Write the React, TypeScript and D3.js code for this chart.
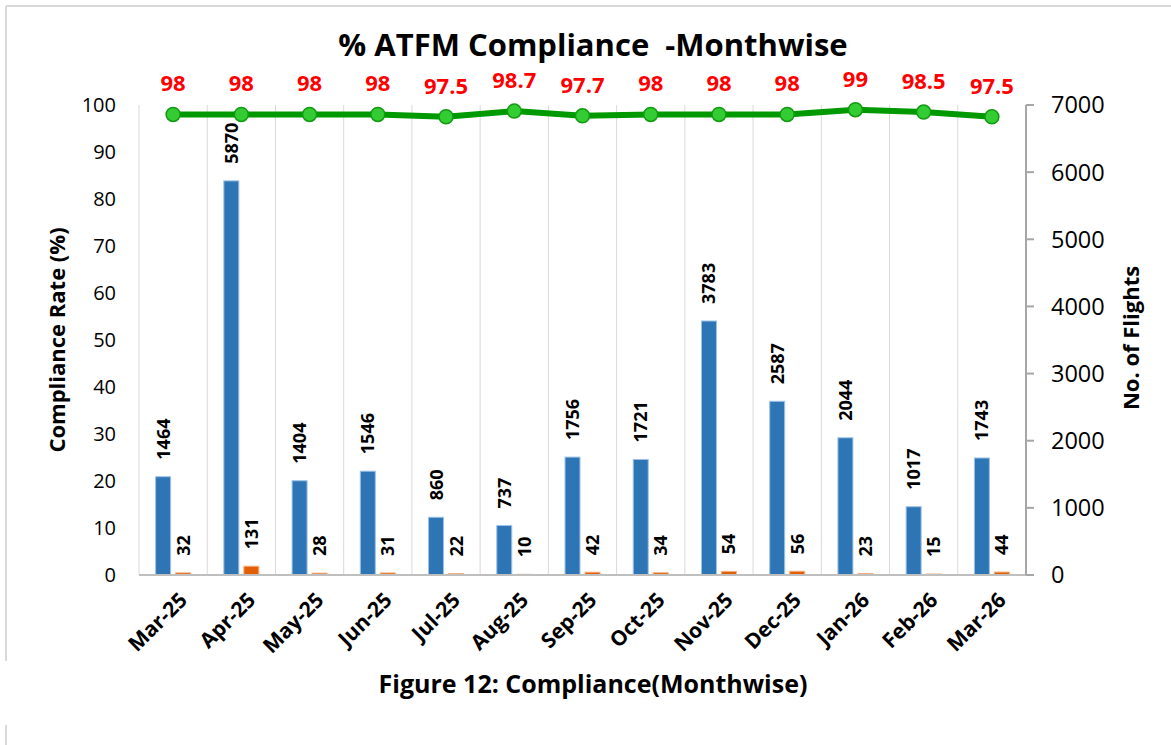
import React from 'react';
import * as d3 from 'd3';

const months = ['Mar-25', 'Apr-25', 'May-25', 'Jun-25', 'Jul-25', 'Aug-25', 'Sep-25', 'Oct-25', 'Nov-25', 'Dec-25', 'Jan-26', 'Feb-26', 'Mar-26'];
const atfmFlights = [1464, 5870, 1404, 1546, 860, 737, 1756, 1721, 3783, 2587, 2044, 1017, 1743];
const nonCompliant = [32, 131, 28, 31, 22, 10, 42, 34, 54, 56, 23, 15, 44];
const compliance = [98, 98, 98, 98, 97.5, 98.7, 97.7, 98, 98, 98, 99, 98.5, 97.5];
const leftTicks = [0, 10, 20, 30, 40, 50, 60, 70, 80, 90, 100];
const rightTicks = [0, 1000, 2000, 3000, 4000, 5000, 6000, 7000];

const W = 1171;
const H = 745;
const FONT = "'Open Sans', 'Noto Sans', sans-serif";

const App = () => {
  const left = 139;
  const right = 1026;
  const top = 105;
  const bottom = 575;

  const x = d3.scaleBand().domain(months).range([left, right]).padding(0);
  const sub = d3.scaleBand().domain(['flights', 'non']).range([-17.5, 17.5]).paddingInner(0.25);
  const yL = d3.scaleLinear().domain([0, 100]).range([bottom, top]);
  const yR = d3.scaleLinear().domain([0, 7000]).range([bottom, top]);

  const cx = (m: string) => (x(m) as number) + x.bandwidth() / 2;

  const line = d3
    .line<number>()
    .x((_, i) => cx(months[i]))
    .y((d) => yL(d));

  const series = [
    { key: 'flights', values: atfmFlights, fill: '#2E75B6', stroke: '#9DC3E6' },
    { key: 'non', values: nonCompliant, fill: '#E35F05', stroke: '#F4B183' },
  ];

  return (
    <svg width={W} height={H} style={{ position: 'absolute', left: 0, top: 0, background: '#fff' }} fontFamily={FONT}>
      {/* frame */}
      <line x1={6} x2={W} y1={6} y2={6} stroke="#D9D9D9" strokeWidth={2} />
      <line x1={6} x2={6} y1={6} y2={661} stroke="#D9D9D9" strokeWidth={2} />
      <line x1={6} x2={6} y1={725} y2={H} stroke="#D9D9D9" strokeWidth={2} />

      <text x={593} y={56} textAnchor="middle" fontSize={31} fontWeight="bold" fill="#000" style={{ whiteSpace: 'pre' }}>
        % ATFM Compliance  -Monthwise
      </text>

      {/* vertical gridlines */}
      {months.map((m) => (
        <line key={'g' + m} x1={x(m)} x2={x(m)} y1={top} y2={bottom} stroke="#D9D9D9" strokeWidth={1} />
      ))}

      {/* bars */}
      {series.map((s) =>
        s.values.map((v, i) => {
          const bx = cx(months[i]) + (sub(s.key) as number);
          return (
            <rect
              key={s.key + i}
              x={bx}
              y={yR(v)}
              width={sub.bandwidth()}
              height={bottom - yR(v)}
              fill={s.fill}
              stroke={s.stroke}
              strokeWidth={1}
            />
          );
        })
      )}

      {/* bar labels */}
      {series.map((s) =>
        s.values.map((v, i) => {
          const bx = cx(months[i]) + (sub(s.key) as number) + sub.bandwidth() / 2;
          const by = yR(v) - 17;
          return (
            <text
              key={'l' + s.key + i}
              transform={`translate(${bx},${by}) rotate(-90)`}
              dy="0.36em"
              fontSize={18}
              fontWeight="bold"
              fill="#000"
            >
              {v}
            </text>
          );
        })
      )}

      {/* baseline + right axis */}
      <line x1={left} x2={right + 8} y1={bottom} y2={bottom} stroke="#BFBFBF" strokeWidth={2} />
      <line x1={right} x2={right} y1={top} y2={bottom} stroke="#A6A6A6" strokeWidth={2} />
      {rightTicks.map((t) => (
        <g key={'r' + t}>
          <line x1={right} x2={right + 8} y1={yR(t)} y2={yR(t)} stroke="#A6A6A6" strokeWidth={2} />
          <text x={1051} y={yR(t)} dy="0.36em" fontSize={23.5} fill="#000">
            {t}
          </text>
        </g>
      ))}
      {leftTicks.map((t) => (
        <text key={'lt' + t} x={116} y={yL(t)} dy="0.36em" textAnchor="end" fontSize={20} fill="#000">
          {t}
        </text>
      ))}

      {/* compliance line */}
      <path d={line(compliance) as string} fill="none" stroke="#009900" strokeWidth={6} strokeLinejoin="round" />
      {compliance.map((v, i) => (
        <g key={'p' + i}>
          <circle cx={cx(months[i])} cy={yL(v)} r={7} fill="#33CC33" stroke="#139A13" strokeWidth={1.5} />
          <text x={cx(months[i])} y={yL(v) - 23} textAnchor="middle" fontSize={22} fontWeight="bold" fill="#FF0000">
            {v}
          </text>
        </g>
      ))}

      {/* x labels */}
      {months.map((m) => (
        <text
          key={'x' + m}
          transform={`translate(${cx(m) + 5},${bottom + 16}) rotate(-45)`}
          textAnchor="end"
          dy="0.7em"
          fontSize={21}
          fontWeight="bold"
          fill="#000"
        >
          {m}
        </text>
      ))}

      {/* axis titles */}
      <text transform={`translate(57,340) rotate(-90)`} textAnchor="middle" dy="0.36em" fontSize={22} fontWeight="bold" fill="#000">
        Compliance Rate (%)
      </text>
      <text transform={`translate(1131,338) rotate(-90)`} textAnchor="middle" dy="0.36em" fontSize={22} fontWeight="bold" fill="#000">
        No. of Flights
      </text>

      <text x={593} y={693} textAnchor="middle" fontSize={25} fontWeight="bold" fill="#000">
        Figure 12: Compliance(Monthwise)
      </text>
    </svg>
  );
};

export default App;
